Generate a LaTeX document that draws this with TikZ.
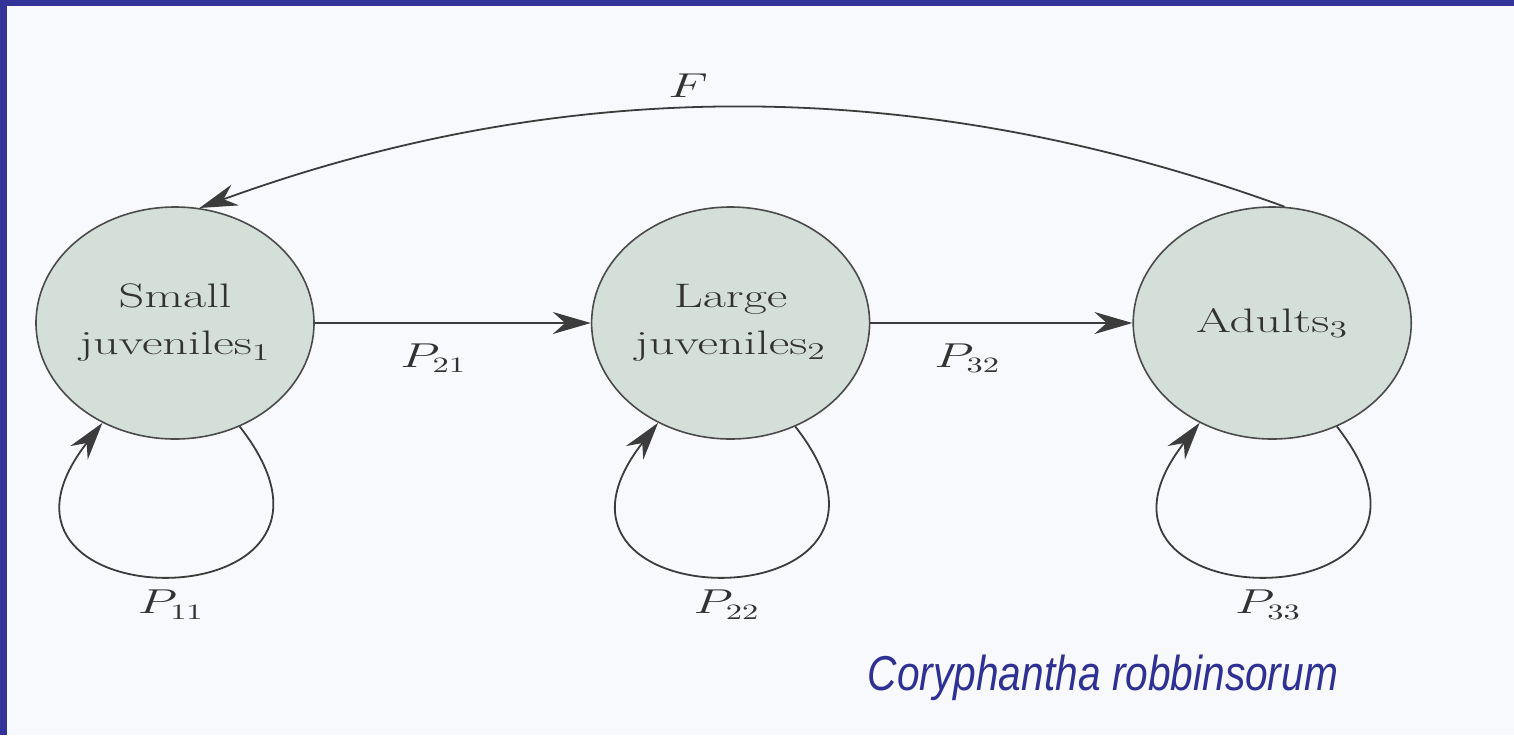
\documentclass[tikz,border=0pt]{standalone}
\usepackage{fontspec}
\newfontfamily\capfont{Liberation Sans}
\usetikzlibrary{arrows.meta, shapes.geometric, positioning}
\definecolor{framebl}{RGB}{51,51,153}
\definecolor{capblue}{RGB}{46,48,148}
\definecolor{bgpage}{RGB}{248,249,252}
\definecolor{stagefill}{RGB}{212,223,217}
\definecolor{stageline}{RGB}{75,75,75}
\definecolor{linegray}{RGB}{60,60,60}
\definecolor{labelgray}{RGB}{50,50,50}
\newcommand{\wtext}[1]{\scalebox{1.48}[1]{#1}}
\tikzset{
  stage/.style={ellipse,draw=stageline,fill=stagefill,line width=0.8pt,minimum width=139pt,minimum height=116pt,inner sep=0pt,align=center,text=labelgray,font=\fontsize{17}{23.5}\selectfont},
  arr/.style={-{Stealth[length=19pt,width=11pt]},line width=0.9pt,draw=linegray},
  plabel/.style={inner sep=0pt,text=labelgray,font=\fontsize{16}{19}\selectfont}
}

\begin{document}
\begin{tikzpicture}[x=0.5pt,y=0.5pt]
  \useasboundingbox (0,0) rectangle (1514,-735);
  \fill[bgpage] (0,0) rectangle (1514,-735);
  \fill[framebl] (0,0) rectangle (1514,-6);
  \fill[framebl] (0,0) rectangle (7,-735);

  \node[stage] (s1) at (175,-323) {\wtext{Small}\\\wtext{juveniles$_1$}};
  \node[stage, right=138pt of s1] (s2) {\wtext{Large}\\\wtext{juveniles$_2$}};
  \node[stage, right=131pt of s2] (s3) {\wtext{Adults$_3$}};

  \foreach \a/\b/\p/\t in {s1/s2/0.43/$P_{21}$, s2/s3/0.37/$P_{32}$}
    \draw[arr] (\a) -- (\b) node[plabel, pos=\p, below=10pt] {\wtext{\t}};

  \foreach \s/\t in {s1/$P_{11}$, s2/$P_{22}$, s3/$P_{33}$}
    \draw[arr] (\s.-58) .. controls +(-52:255) and +(-128:255) .. (\s.-126)
      node[plabel, pos=0.5, below=7pt] {\wtext{\t}};

  \draw[arr] (s3.84) to[out=160, in=20, looseness=0.92]
    node[plabel, pos=0.55, above=5pt] {\wtext{$F$}} (s1.78);

  \node[text=capblue, font=\capfont\itshape\fontsize{24.5}{29}\selectfont, anchor=base] (cap) at (1103,-690)
    {\scalebox{0.83}[1]{Coryphantha robbinsorum}};
\end{tikzpicture}
\end{document}
